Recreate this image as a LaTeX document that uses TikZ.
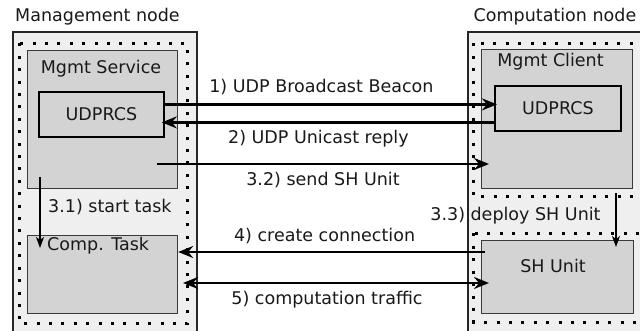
\documentclass[tikz,border=0pt]{standalone}
\usepackage{fontspec}
\setmainfont{DejaVu Sans}
\usetikzlibrary{arrows.meta,calc}
\definecolor{hostfill}{HTML}{EFEFEF}
\definecolor{partfill}{HTML}{D3D3D3}
\definecolor{partline}{HTML}{3A3A3A}
\tikzset{
  host/.style={draw=black!85, line width=1.6pt, fill=hostfill},
  zone/.style={draw=black, line width=3pt, dash pattern=on 3pt off 9.4pt},
  part/.style={draw=partline, line width=1.2pt, fill=partfill, anchor=north west, inner sep=0pt},
  svcbox/.style={draw=black, line width=1.8pt, fill=partfill, anchor=north west, inner sep=0pt},
  lbl/.style={font=\fontsize{17.5}{20}\selectfont, text=black!90, inner sep=0pt},
  flow/.style={line width=2.6pt, -{Stealth[length=15pt,width=12pt,inset=5pt]}},
  biflow/.style={line width=2.6pt, {Stealth[length=15pt,width=12pt,inset=5pt]}-{Stealth[length=15pt,width=12pt,inset=5pt]}},
  local/.style={line width=1.3pt, -{Stealth[length=11pt,width=8pt,inset=3pt]}},
}
\begin{document}
\begin{tikzpicture}[x=1pt,y=-1pt]
\useasboundingbox (0,0) rectangle (640,331);
\fill[white] (0,0) rectangle (640,331);

% hosts
\draw[host] (13,32) rectangle (197,340);
\draw[host] (468,32) rectangle (650,340);

% dotted zones
\draw[zone] (19,43.5) rectangle (187.5,323.5);
\draw[zone] (473.5,43.5) rectangle (660,197);
\draw[zone] (473.5,233.5) rectangle (660,322);

% host titles
\node[lbl] (mgmtnode) at (97.5,17) {Management node};
\node[lbl] (compnode) at (555,17) {Computation node};

% management side
\node[part, minimum width=150pt, minimum height=138pt] (svc) at (27,50) {};
\node[lbl] (svclbl) at (101,69) {Mgmt Service};
\node[svcbox, minimum width=125pt, minimum height=45pt] (udpL) at (38,91) {};
\node[lbl] at (udpL.center) {UDPRCS};
\node[part, minimum width=150pt, minimum height=78pt] (task) at (27,235) {};
\node[lbl, anchor=west] (tasklbl) at (47,246) {Comp. Task};

% computation side
\node[part, minimum width=151pt, minimum height=139pt] (client) at (481,49) {};
\node[lbl] (clientlbl) at (550.5,62) {Mgmt Client};
\node[svcbox, minimum width=126pt, minimum height=45pt] (udpR) at (494,85) {};
\node[lbl] at (udpR.center) {UDPRCS};
\node[part, minimum width=152pt, minimum height=73pt] (shunit) at (481,240) {};
\node[lbl] at (553,266) {SH Unit};

% connection points
\coordinate (b1) at ($(udpL.east)+(-1,-10)$);
\coordinate (b2) at ($(udpR.west)+(3,-4)$);
\coordinate (r1) at ($(udpR.west)+(1,14)$);
\coordinate (r2) at ($(udpL.east)+(-3,8)$);
\coordinate (s1) at (157,164);
\coordinate (s2) at (489,164);
\coordinate (c1) at (485,252);
\coordinate (c2) at (task.east |- 0,252);
\coordinate (t1) at (183,283);
\coordinate (t2) at (489,283);
\coordinate (st1) at (40,177);
\coordinate (st2) at (40,248);
\coordinate (dp1) at (616,193);
\coordinate (dp2) at (616,247);

% messages
\draw[flow] (b1) -- (b2) node[lbl, midway, above=8pt, xshift=-9pt] {1) UDP Broadcast Beacon};
\draw[flow] (r1) -- (r2) node[lbl, midway, below=7pt, xshift=-10pt] {2) UDP Unicast reply};
\draw[flow] (s1) -- (s2) node[lbl, midway, below=7pt] {3.2) send SH Unit};
\draw[flow] (c1) -- (c2) node[lbl, midway, above=7pt, xshift=-7pt] {4) create connection};
\draw[biflow] (t1) -- (t2) node[lbl, midway, below=7pt, xshift=-9pt] {5) computation traffic};

% local steps
\draw[local] (st1) -- (st2);
\node[lbl, anchor=west] (startlbl) at (48,207) {3.1) start task};
\draw[local] (dp1) -- (dp2);
\node[lbl] (deploylbl) at (515.5,216) {3.3) deploy SH Unit};
\end{tikzpicture}
\end{document}
